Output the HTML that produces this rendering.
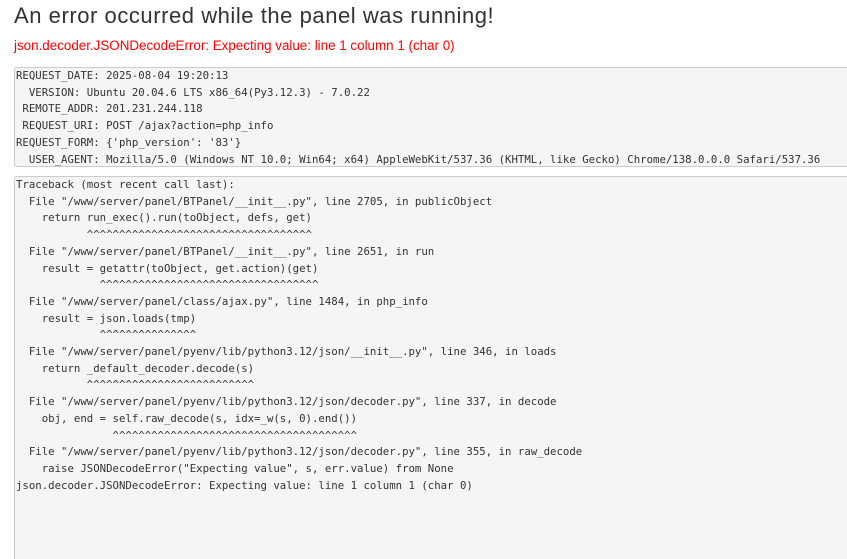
<!DOCTYPE html>
<html style="height:559px;overflow:hidden"><head><style>
body{margin:0;background:#fff;width:847px;height:559px;overflow:hidden;position:relative;font-family:"Liberation Sans",sans-serif;}
h1{position:absolute;left:14px;top:1px;margin:0;font-size:22px;letter-spacing:0.55px;font-weight:normal;color:#333;line-height:30px;white-space:nowrap;}
.err{position:absolute;left:14px;top:38px;font-size:13.4px;color:#f00;line-height:16px;white-space:nowrap;}
pre{position:absolute;left:14px;margin:0;background:#f5f5f5;border:1px solid #ccc;border-radius:3px;padding:0 0 0 1px;font-family:"DejaVu Sans Mono","Liberation Mono",monospace;font-size:10.7px;line-height:16.7px;color:#333;white-space:pre;width:850px;overflow:hidden;}
#a{top:67px;height:98px;}
#b{top:176px;height:400px;}
</style></head><body>
<h1>An error occurred while the panel was running!</h1>
<div class="err">json.decoder.JSONDecodeError: Expecting value: line 1 column 1 (char 0)</div>
<pre id="a">REQUEST_DATE: 2025-08-04 19:20:13
  VERSION: Ubuntu 20.04.6 LTS x86_64(Py3.12.3) - 7.0.22
 REMOTE_ADDR: 201.231.244.118
 REQUEST_URI: POST /ajax?action=php_info
REQUEST_FORM: {'php_version': '83'}
  USER_AGENT: Mozilla/5.0 (Windows NT 10.0; Win64; x64) AppleWebKit/537.36 (KHTML, like Gecko) Chrome/138.0.0.0 Safari/537.36</pre>
<pre id="b">Traceback (most recent call last):
  File "/www/server/panel/BTPanel/__init__.py", line 2705, in publicObject
    return run_exec().run(toObject, defs, get)
           ^^^^^^^^^^^^^^^^^^^^^^^^^^^^^^^^^^^
  File "/www/server/panel/BTPanel/__init__.py", line 2651, in run
    result = getattr(toObject, get.action)(get)
             ^^^^^^^^^^^^^^^^^^^^^^^^^^^^^^^^^^
  File "/www/server/panel/class/ajax.py", line 1484, in php_info
    result = json.loads(tmp)
             ^^^^^^^^^^^^^^^
  File "/www/server/panel/pyenv/lib/python3.12/json/__init__.py", line 346, in loads
    return _default_decoder.decode(s)
           ^^^^^^^^^^^^^^^^^^^^^^^^^^
  File "/www/server/panel/pyenv/lib/python3.12/json/decoder.py", line 337, in decode
    obj, end = self.raw_decode(s, idx=_w(s, 0).end())
               ^^^^^^^^^^^^^^^^^^^^^^^^^^^^^^^^^^^^^^
  File "/www/server/panel/pyenv/lib/python3.12/json/decoder.py", line 355, in raw_decode
    raise JSONDecodeError("Expecting value", s, err.value) from None
json.decoder.JSONDecodeError: Expecting value: line 1 column 1 (char 0)</pre>
</body></html>
